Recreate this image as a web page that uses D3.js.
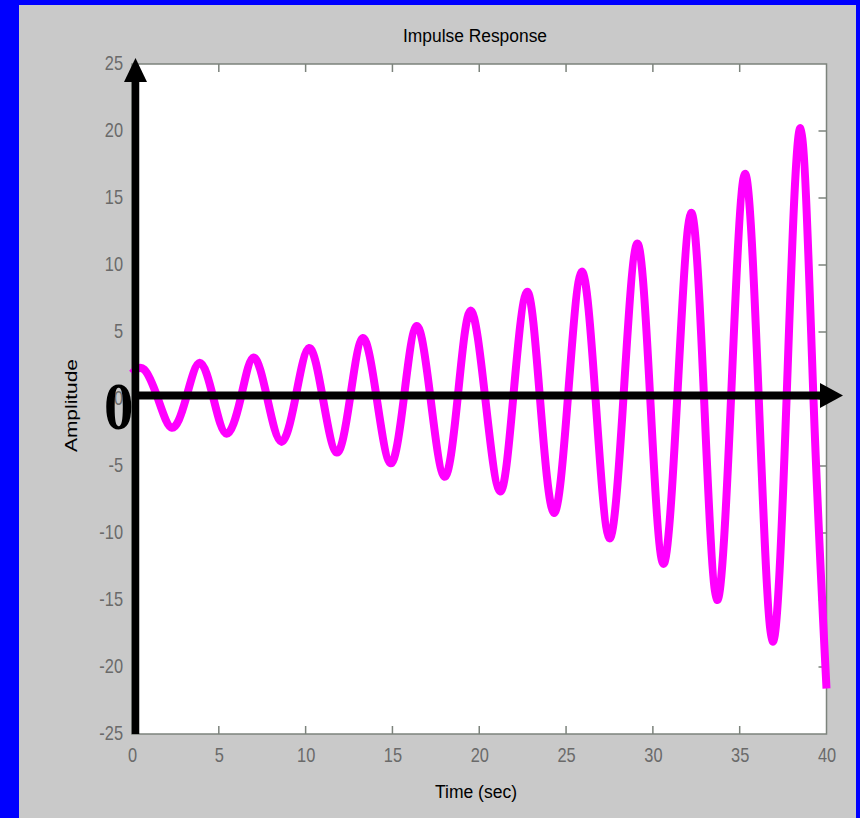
<!DOCTYPE html>
<html>
<head>
<meta charset="utf-8">
<script src="https://cdn.jsdelivr.net/npm/d3@7"></script>
<style>
  html, body { margin: 0; padding: 0; background: #0000ff; }
  svg { display: block; }
</style>
</head>
<body>
<div id="chart"></div>
<script>
// values: extremes and zero crossings of the response
const times = [0, 0.7, 1.5, 2.3, 3.1, 3.9, 4.7, 5.45, 6.25, 7.0, 7.8, 8.6, 9.4, 10.2, 11.0, 11.8,
    12.55, 13.3, 14.1, 14.9, 15.65, 16.4, 17.2, 18.0, 18.75, 19.5, 20.35, 21.2, 21.95, 22.75,
    23.5, 24.3, 25.1, 25.9, 26.7, 27.5, 28.3, 29.1, 29.85, 30.6, 31.4, 32.2, 32.95, 33.7,
    34.5, 35.3, 36.1, 36.9, 37.7, 38.5, 39.25, 40]
const amplitude = [1.9, 2.2, 0, -2.15, 0, 2.7, 0, -2.6, 0, 3.1, 0, -3.2, 0, 3.8, 0, -4.0,
    0, 4.55, 0, -4.8, 0, 5.45, 0, -5.8, 0, 6.6, 0, -6.9, 0, 8.0,
    0, -8.5, 0, 9.5, 0, -10.4, 0, 11.6, 0, -12.3, 0, 13.9, 0, -15.0,
    0, 16.8, 0, -18.1, 0, 20.2, 0, -21.6]
const xTicks = [0, 5, 10, 15, 20, 25, 30, 35, 40]
const yTicks = [-25, -20, -15, -10, -5, 0, 5, 10, 15, 20, 25]

const W = 860, H = 818
const pLeft = 132, pRight = 826.5, pTop = 64, pBottom = 734

const data = times.map((t, i) => ({ t: t, a: amplitude[i] }))

const x = d3.scaleLinear().domain([0, 40]).range([pLeft, pRight])
const y = d3.scaleLinear().domain([-25, 25]).range([pBottom, pTop])

const svg = d3.select("#chart").append("svg")
    .attr("width", W)
    .attr("height", H)

// grey figure panel
svg.append("rect")
    .attr("x", 19).attr("y", 5)
    .attr("width", 837).attr("height", H - 5)
    .attr("fill", "#c9c9c9")

svg.append("rect")
    .attr("x", pLeft).attr("y", pTop)
    .attr("width", pRight - pLeft).attr("height", pBottom - pTop)
    .attr("fill", "white")
    .attr("stroke", "#7c837c")
    .attr("stroke-width", 1.5)

const tickColor = "#7c837c"
const labelColor = "#6a6a6a"
const plain = d => String(d)   // hyphen minus like the original, not the unicode one

// ticks on all four sides, pointing in
const g = svg.append("g")
xTicks.slice(1, -1).forEach(function (t) {
    g.append("line").attr("x1", x(t)).attr("x2", x(t)).attr("y1", pBottom).attr("y2", pBottom - 8)
        .attr("stroke", tickColor).attr("stroke-width", 1.5)
    g.append("line").attr("x1", x(t)).attr("x2", x(t)).attr("y1", pTop).attr("y2", pTop + 8)
        .attr("stroke", tickColor).attr("stroke-width", 1.5)
})
yTicks.slice(1, -1).forEach(function (v) {
    g.append("line").attr("x1", pRight).attr("x2", pRight - 8).attr("y1", y(v)).attr("y2", y(v))
        .attr("stroke", tickColor).attr("stroke-width", 1.5)
})

// tick labels (tall, narrow look)
const xAxis = d3.axisBottom(x).tickValues(xTicks).tickSize(0).tickFormat(plain)
const xg = svg.append("g").attr("transform", `translate(0,${pBottom})`).call(xAxis)
xg.select(".domain").remove()
xg.selectAll("text")
    .attr("y", 0).attr("dy", null)
    .attr("dominant-baseline", "middle")
    .attr("transform", "translate(0,23) scale(0.82,1)")
    .attr("font-family", "Liberation Sans, Arial, sans-serif")
    .attr("font-size", 20)
    .attr("fill", labelColor)

const yAxis = d3.axisLeft(y).tickValues(yTicks).tickSize(0).tickFormat(plain)
const yg = svg.append("g").attr("transform", `translate(${pLeft},0)`).call(yAxis)
yg.select(".domain").remove()
yg.selectAll("text")
    .attr("x", 0).attr("dy", null)
    .attr("dominant-baseline", "middle")
    .attr("transform", "translate(-9,0) scale(0.82,1)")
    .attr("font-family", "Liberation Sans, Arial, sans-serif")
    .attr("font-size", 20)
    .attr("fill", labelColor)

// the response
const line = d3.line()
    .x(d => x(d.t))
    .y(d => y(d.a))
    .curve(d3.curveNatural)

svg.append("path")
    .datum(data)
    .attr("d", line)
    .attr("fill", "none")
    .attr("stroke", "#ff00ff")
    .attr("stroke-width", 8)
    .attr("stroke-linejoin", "round")

// thick black arrows drawn over the plot
const ax = x(0) + 3.5
const ay = y(0) - 3.5
svg.append("line")
    .attr("x1", ax).attr("x2", ax)
    .attr("y1", pBottom).attr("y2", pTop + 16)
    .attr("stroke", "black").attr("stroke-width", 7.5)
svg.append("path")
    .attr("d", `M${ax},${pTop - 6} L${ax - 11.5},${pTop + 18} L${ax + 11.5},${pTop + 18} Z`)
    .attr("fill", "black")

svg.append("line")
    .attr("x1", pLeft).attr("x2", pRight - 4)
    .attr("y1", ay).attr("y2", ay)
    .attr("stroke", "black").attr("stroke-width", 8)
svg.append("path")
    .attr("d", `M${pRight + 16.5},${ay} L${pRight - 6.5},${ay - 12.5} L${pRight - 6.5},${ay + 12.5} Z`)
    .attr("fill", "black")

svg.append("text")
    .attr("transform", "translate(104,429) scale(0.88,1)")
    .attr("font-family", "Liberation Serif, Times New Roman, serif")
    .attr("font-weight", "bold")
    .attr("font-size", 67)
    .attr("fill", "black")
    .text("0")

// titles
svg.append("text")
    .attr("x", 403).attr("y", 37)
    .attr("dominant-baseline", "middle")
    .attr("textLength", 144)
    .attr("lengthAdjust", "spacingAndGlyphs")
    .attr("font-family", "Liberation Sans, Arial, sans-serif")
    .attr("font-size", 18)
    .attr("fill", "black")
    .text("Impulse Response")

svg.append("text")
    .attr("x", 435).attr("y", 793)
    .attr("dominant-baseline", "middle")
    .attr("textLength", 82)
    .attr("lengthAdjust", "spacingAndGlyphs")
    .attr("font-family", "Liberation Sans, Arial, sans-serif")
    .attr("font-size", 18)
    .attr("fill", "black")
    .text("Time (sec)")

svg.append("text")
    .attr("transform", "translate(73,452) rotate(-90)")
    .attr("dominant-baseline", "middle")
    .attr("textLength", 93)
    .attr("lengthAdjust", "spacingAndGlyphs")
    .attr("font-family", "Liberation Sans, Arial, sans-serif")
    .attr("font-size", 17)
    .attr("fill", "black")
    .text("Amplitude")
</script>
</body>
</html>
